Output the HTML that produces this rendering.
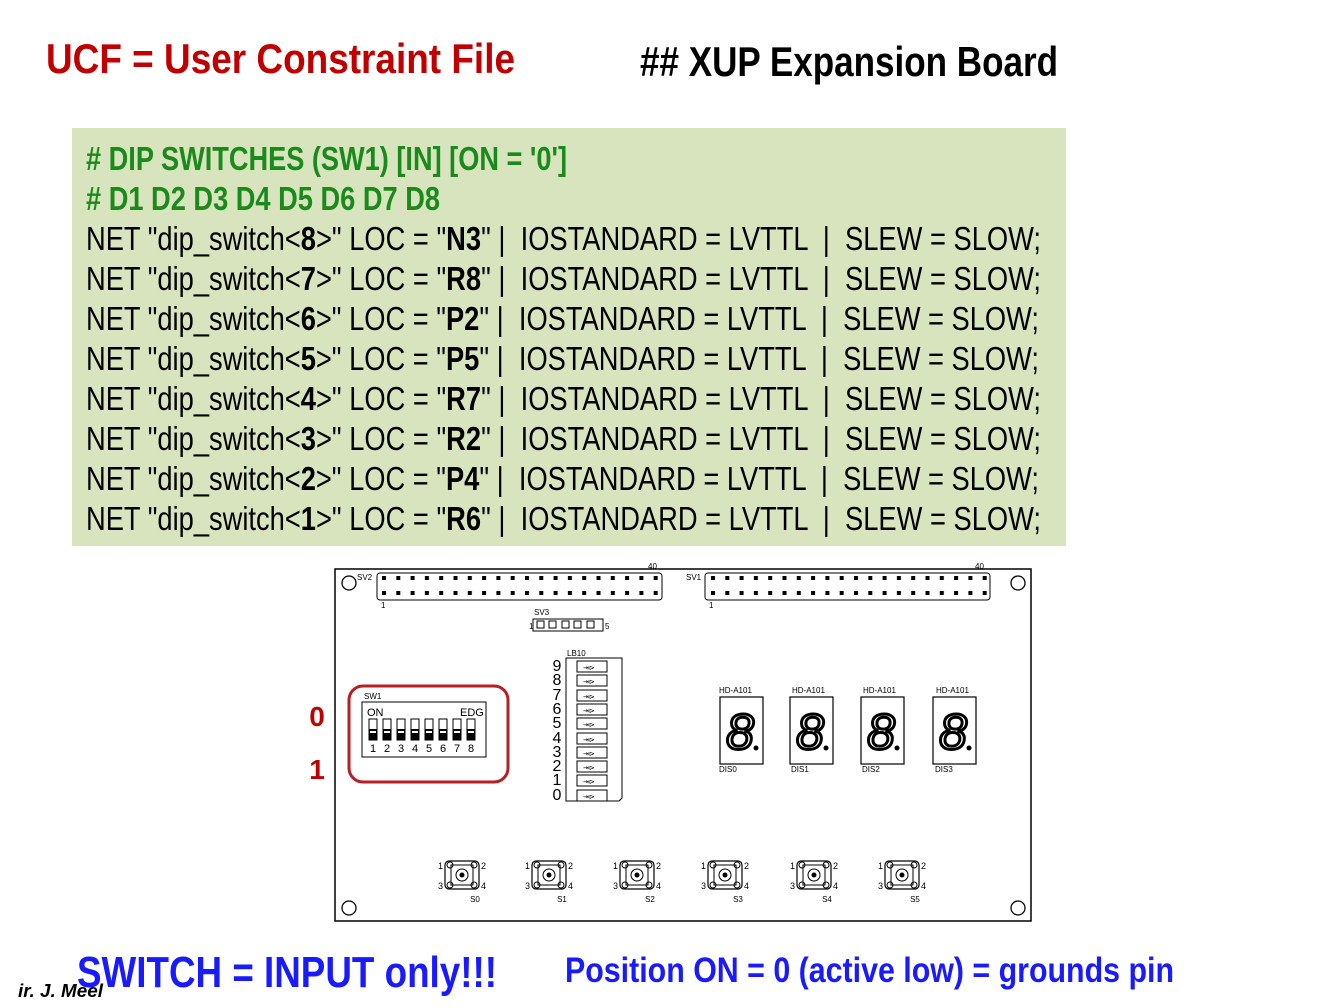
<!DOCTYPE html>
<html><head><meta charset="utf-8"><style>html,body{margin:0;padding:0;background:#fff}svg{display:block}</style></head>
<body>
<svg width="1344" height="1008" viewBox="0 0 1344 1008" xmlns="http://www.w3.org/2000/svg" font-family="Liberation Sans, Arial, sans-serif">
<defs>
<pattern id="pins" x="379" y="0" width="14.3" height="1008" patternUnits="userSpaceOnUse">
<rect x="3" y="576" width="4" height="4" fill="#000"/><rect x="3" y="591" width="4" height="4" fill="#000"/>
</pattern>
<pattern id="pins2" x="708" y="0" width="14.3" height="1008" patternUnits="userSpaceOnUse">
<rect x="3" y="576" width="4" height="4" fill="#000"/><rect x="3" y="591" width="4" height="4" fill="#000"/>
</pattern>
<g id="btn">
<rect x="-17" y="-14" width="34" height="28" rx="4" fill="none" stroke="#000" stroke-width="1.2"/>
<rect x="-11" y="-10" width="22" height="20" fill="none" stroke="#000"/>
<circle r="6" fill="none" stroke="#000"/><circle r="2.5" fill="#000"/>
<circle cx="-12" cy="-10" r="3" fill="none" stroke="#000"/><circle cx="12" cy="-10" r="3" fill="none" stroke="#000"/>
<circle cx="-12" cy="10" r="3" fill="none" stroke="#000"/><circle cx="12" cy="10" r="3" fill="none" stroke="#000"/>
<text x="-24" y="-6" font-size="9">1</text><text x="19" y="-6" font-size="9">2</text>
<text x="-24" y="14" font-size="9">3</text><text x="19" y="14" font-size="9">4</text>
</g>
<g id="seg">
<rect x="0" y="0" width="43" height="67" fill="#fff" stroke="#000" stroke-width="1.2"/>
<text x="20" y="52" font-size="50" font-style="italic" text-anchor="middle" fill="#fff" stroke="#000" stroke-width="3">8</text>
<circle cx="36" cy="51" r="2.5" fill="#000"/>
</g>
<g id="led"><rect x="0" y="0" width="30" height="11" fill="#fff" stroke="#000"/><text x="6" y="9" font-size="7">⇥⊳</text></g>
<g id="dsw"><rect x="0" y="0" width="8" height="21" fill="#fff" stroke="#000"/><rect x="0" y="10" width="8" height="11" fill="#000"/><rect x="1" y="12" width="6" height="2" fill="#fff"/></g>
</defs>

<text x="46" y="73" font-size="42" font-weight="bold" fill="#c00000" textLength="469" lengthAdjust="spacingAndGlyphs">UCF = User Constraint File</text>
<text x="640" y="76" font-size="42" font-weight="bold" fill="#000" textLength="418" lengthAdjust="spacingAndGlyphs">## XUP Expansion Board</text>

<rect x="72" y="128" width="994" height="418" fill="#d7e4bd"/>
<g font-size="33" font-weight="bold" fill="#1a8a1a">
<text x="86" y="170" textLength="481" lengthAdjust="spacingAndGlyphs"># DIP SWITCHES (SW1) [IN] [ON = '0']</text>
<text x="86" y="210" textLength="354" lengthAdjust="spacingAndGlyphs"># D1 D2 D3 D4 D5 D6 D7 D8</text>
</g>
<g font-size="33" fill="#000">
<text x="86" y="250" textLength="955" lengthAdjust="spacingAndGlyphs">NET "dip_switch&lt;<tspan font-weight="bold">8</tspan>&gt;" LOC = "<tspan font-weight="bold">N3</tspan>" | &#160;IOSTANDARD = LVTTL &#160;| &#160;SLEW = SLOW;</text>
<text x="86" y="290" textLength="955" lengthAdjust="spacingAndGlyphs">NET "dip_switch&lt;<tspan font-weight="bold">7</tspan>&gt;" LOC = "<tspan font-weight="bold">R8</tspan>" | &#160;IOSTANDARD = LVTTL &#160;| &#160;SLEW = SLOW;</text>
<text x="86" y="330" textLength="953" lengthAdjust="spacingAndGlyphs">NET "dip_switch&lt;<tspan font-weight="bold">6</tspan>&gt;" LOC = "<tspan font-weight="bold">P2</tspan>" | &#160;IOSTANDARD = LVTTL &#160;| &#160;SLEW = SLOW;</text>
<text x="86" y="370" textLength="953" lengthAdjust="spacingAndGlyphs">NET "dip_switch&lt;<tspan font-weight="bold">5</tspan>&gt;" LOC = "<tspan font-weight="bold">P5</tspan>" | &#160;IOSTANDARD = LVTTL &#160;| &#160;SLEW = SLOW;</text>
<text x="86" y="410" textLength="955" lengthAdjust="spacingAndGlyphs">NET "dip_switch&lt;<tspan font-weight="bold">4</tspan>&gt;" LOC = "<tspan font-weight="bold">R7</tspan>" | &#160;IOSTANDARD = LVTTL &#160;| &#160;SLEW = SLOW;</text>
<text x="86" y="450" textLength="955" lengthAdjust="spacingAndGlyphs">NET "dip_switch&lt;<tspan font-weight="bold">3</tspan>&gt;" LOC = "<tspan font-weight="bold">R2</tspan>" | &#160;IOSTANDARD = LVTTL &#160;| &#160;SLEW = SLOW;</text>
<text x="86" y="490" textLength="953" lengthAdjust="spacingAndGlyphs">NET "dip_switch&lt;<tspan font-weight="bold">2</tspan>&gt;" LOC = "<tspan font-weight="bold">P4</tspan>" | &#160;IOSTANDARD = LVTTL &#160;| &#160;SLEW = SLOW;</text>
<text x="86" y="530" textLength="955" lengthAdjust="spacingAndGlyphs">NET "dip_switch&lt;<tspan font-weight="bold">1</tspan>&gt;" LOC = "<tspan font-weight="bold">R6</tspan>" | &#160;IOSTANDARD = LVTTL &#160;| &#160;SLEW = SLOW;</text>
</g>

<rect x="335" y="569" width="696" height="352" fill="#fff" stroke="#000" stroke-width="1.5"/>
<circle cx="349" cy="583" r="7" fill="none" stroke="#000" stroke-width="1.3"/>
<circle cx="1018" cy="583" r="7" fill="none" stroke="#000" stroke-width="1.3"/>
<circle cx="349" cy="908" r="7" fill="none" stroke="#000" stroke-width="1.3"/>
<circle cx="1018" cy="908" r="7" fill="none" stroke="#000" stroke-width="1.3"/>
<g font-size="8">
<text x="357" y="580">SV2</text><text x="686" y="580">SV1</text>
<text x="648" y="569">40</text><text x="975" y="569">40</text>
<text x="381" y="608">1</text><text x="709" y="608">1</text>
</g>
<rect x="377" y="573" width="285" height="27" rx="3" fill="url(#pins)" stroke="#000"/>
<rect x="705" y="573" width="285" height="27" rx="3" fill="url(#pins2)" stroke="#000"/>
<text x="534" y="615" font-size="8">SV3</text>
<text x="529" y="629" font-size="8">1</text><text x="605" y="629" font-size="8">5</text>
<rect x="533" y="619" width="70" height="12" fill="none" stroke="#000"/>
<g fill="none" stroke="#000"><rect x="537" y="621" width="7" height="7"/><rect x="549" y="621" width="7" height="7"/><rect x="562" y="621" width="7" height="7"/><rect x="574" y="621" width="7" height="7"/><rect x="587" y="621" width="7" height="7"/></g>

<text x="567" y="656" font-size="8">LB10</text>
<path d="M566 658 H622 V798 L619 801 H566 Z" fill="#fff" stroke="#000"/>
<use href="#led" x="577" y="661"/><use href="#led" x="577" y="675"/><use href="#led" x="577" y="690"/><use href="#led" x="577" y="704"/><use href="#led" x="577" y="718"/><use href="#led" x="577" y="733"/><use href="#led" x="577" y="747"/><use href="#led" x="577" y="761"/><use href="#led" x="577" y="775"/><use href="#led" x="577" y="790"/>
<g font-size="16" text-anchor="middle">
<text x="557" y="671">9</text><text x="557" y="685">8</text><text x="557" y="700">7</text><text x="557" y="714">6</text><text x="557" y="728">5</text><text x="557" y="743">4</text><text x="557" y="757">3</text><text x="557" y="771">2</text><text x="557" y="785">1</text><text x="557" y="800">0</text>
</g>

<text x="364" y="699" font-size="8">SW1</text>
<rect x="362" y="702" width="124" height="55" fill="#fff" stroke="#000"/>
<text x="367" y="716" font-size="11">ON</text><text x="460" y="716" font-size="11">EDG</text>
<use href="#dsw" x="369" y="719"/><use href="#dsw" x="383" y="719"/><use href="#dsw" x="397" y="719"/><use href="#dsw" x="411" y="719"/><use href="#dsw" x="425" y="719"/><use href="#dsw" x="439" y="719"/><use href="#dsw" x="453" y="719"/><use href="#dsw" x="467" y="719"/>
<g font-size="11" text-anchor="middle"><text x="373" y="752">1</text><text x="387" y="752">2</text><text x="401" y="752">3</text><text x="415" y="752">4</text><text x="429" y="752">5</text><text x="443" y="752">6</text><text x="457" y="752">7</text><text x="471" y="752">8</text></g>
<rect x="349" y="686" width="159" height="96" rx="14" fill="none" stroke="#b52025" stroke-width="3"/>

<g font-size="8">
<text x="719" y="693">HD-A101</text><text x="792" y="693">HD-A101</text><text x="863" y="693">HD-A101</text><text x="936" y="693">HD-A101</text>
<text x="719" y="772">DIS0</text><text x="791" y="772">DIS1</text><text x="862" y="772">DIS2</text><text x="935" y="772">DIS3</text>
</g>
<use href="#seg" x="720" y="697"/><use href="#seg" x="790" y="697"/><use href="#seg" x="861" y="697"/><use href="#seg" x="933" y="697"/>

<use href="#btn" x="462" y="875"/><use href="#btn" x="549" y="875"/><use href="#btn" x="637" y="875"/><use href="#btn" x="725" y="875"/><use href="#btn" x="814" y="875"/><use href="#btn" x="902" y="875"/>
<g font-size="8" text-anchor="middle"><text x="475" y="902">S0</text><text x="562" y="902">S1</text><text x="650" y="902">S2</text><text x="738" y="902">S3</text><text x="827" y="902">S4</text><text x="915" y="902">S5</text></g>

<text x="317" y="726" font-size="28" font-weight="bold" fill="#c00000" text-anchor="middle">0</text>
<text x="317" y="779" font-size="28" font-weight="bold" fill="#c00000" text-anchor="middle">1</text>

<text x="77" y="987" font-size="44" font-weight="bold" fill="#1a1aff" textLength="420" lengthAdjust="spacingAndGlyphs">SWITCH = INPUT only!!!</text>
<text x="565" y="982" font-size="35" font-weight="bold" fill="#1a1aff" textLength="609" lengthAdjust="spacingAndGlyphs">Position ON = 0 (active low) = grounds pin</text>
<text x="18" y="997" font-size="18" font-weight="bold" font-style="italic" fill="#000" textLength="85" lengthAdjust="spacingAndGlyphs">ir. J. Meel</text>
</svg>
</body></html>
